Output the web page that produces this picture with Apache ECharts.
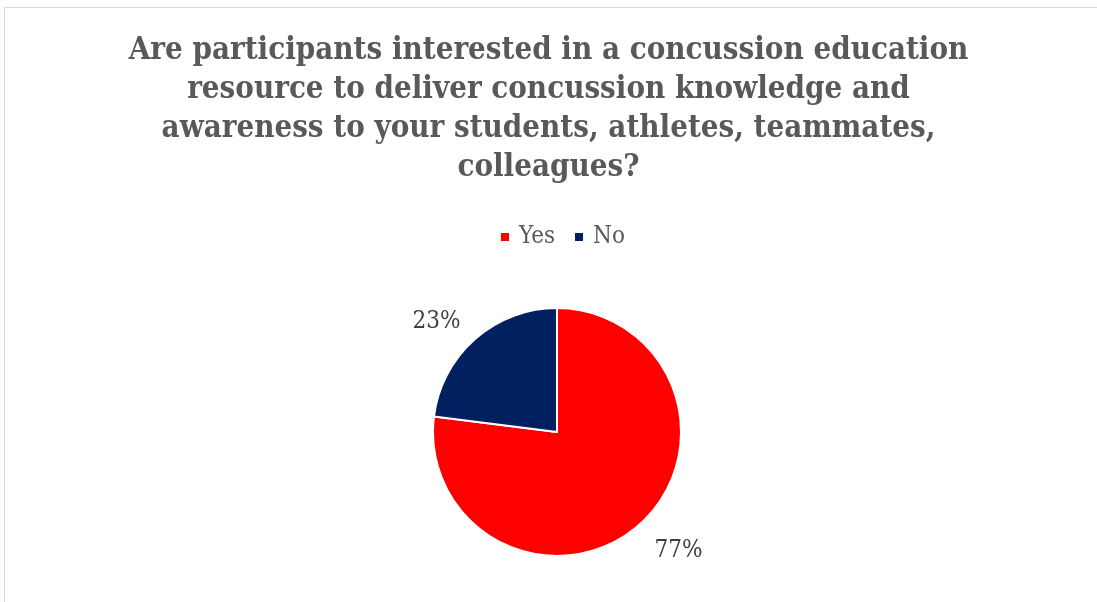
<!DOCTYPE html>
<html>
<head>
<meta charset="utf-8">
<script src="https://cdn.jsdelivr.net/npm/echarts@6/dist/echarts.min.js"></script>
<style>
  html, body { margin: 0; padding: 0; background: #ffffff; }
  #chart { width: 1097px; height: 602px; }
</style>
</head>
<body>
<div id="chart"></div>
<script>
// Survey answers and their shares (percent)
const categories = ['Yes', 'No'];
const shares = [77, 23];
const colors = ['#ff0000', '#002060'];
const titleLines = [
  'Are participants interested in a concussion education',
  'resource to deliver concussion knowledge and',
  'awareness to your students, athletes, teammates,',
  'colleagues?'
];

const serif = '"DejaVu Serif Condensed", "DejaVu Serif", "Liberation Serif", serif';

const chart = echarts.init(document.getElementById('chart'), null, { renderer: 'canvas' });

chart.setOption({
  backgroundColor: '#ffffff',
  animation: false,
  graphic: [{
    type: 'rect',
    left: 2, top: 5,
    shape: { width: 1110, height: 610 },
    style: { fill: 'none', stroke: '#d9d9d9', lineWidth: 1 }
  }],
  title: {
    text: titleLines.join('\n'),
    left: 'center',
    top: 26,
    textStyle: {
      fontFamily: serif,
      fontWeight: 'bold',
      fontSize: 31,
      lineHeight: 39,
      color: '#595959'
    }
  },
  legend: {
    data: categories,
    left: 494,
    top: 220,
    icon: 'rect',
    itemWidth: 10,
    itemHeight: 10,
    itemGap: 18,
    textStyle: {
      fontFamily: serif,
      fontSize: 24,
      color: '#595959',
      padding: [0, 0, 0, 4]
    }
  },
  series: [{
    type: 'pie',
    center: [557, 432],
    radius: 124,
    startAngle: 90,
    clockwise: true,
    data: categories.map((name, i) => ({
      name: name,
      value: shares[i],
      itemStyle: { color: colors[i] }
    })),
    itemStyle: { borderColor: '#ffffff', borderWidth: 2 },
    label: {
      show: true,
      position: 'outside',
      formatter: '{d}%',
      fontFamily: serif,
      fontSize: 24,
      color: '#404040'
    },
    labelLine: { show: false, length: 22, length2: 0 },
    labelLayout: (params) => params.dataIndex === 0 ? { dx: -4, dy: 9 } : { dx: 5, dy: -1 },
    emphasis: { disabled: true }
  }]
});
</script>
</body>
</html>
